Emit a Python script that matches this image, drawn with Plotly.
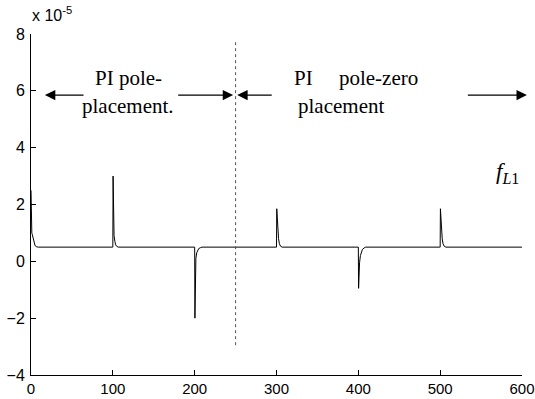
import plotly.graph_objects as go

# time samples and f_L1 values (x 1e-5)
t = [0, 0.2, 0.4, 0.6, 0.8, 1.0, 1.5, 2.5, 3.5, 5, 7, 9,
     99.6, 100.0, 100.3, 100.6, 101.0, 101.5, 102.5, 103.5, 105, 107,
     199.6, 200.0, 200.3, 200.6, 201.0, 201.5, 202.5, 203.5, 205, 207, 209,
     299.6, 300.0, 300.3, 300.8, 301.5, 302.5, 303.5, 305, 307,
     399.6, 400.0, 400.3, 400.8, 401.5, 402.5, 403.5, 405, 407, 409,
     499.6, 500.0, 500.3, 500.8, 501.5, 502.5, 503.5, 505, 507,
     600]
f = [2.5, 1.0, 2.3, 1.1, 1.9, 1.0, 0.95, 0.8, 0.65, 0.55, 0.51, 0.5,
     0.5, 0.5, 3.0, 1.2, 1.05, 0.9, 0.7, 0.58, 0.52, 0.5,
     0.5, 0.5, -2.0, -0.6, -0.1, 0.1, 0.3, 0.38, 0.45, 0.48, 0.5,
     0.5, 0.5, 1.85, 1.6, 1.15, 0.8, 0.62, 0.53, 0.5,
     0.5, 0.5, -0.95, -0.4, -0.05, 0.2, 0.33, 0.42, 0.47, 0.5,
     0.5, 0.5, 1.85, 1.6, 1.15, 0.8, 0.62, 0.53, 0.5,
     0.5]

x_ticks = [0, 100, 200, 300, 400, 500, 600]
y_ticks = [-4, -2, 0, 2, 4, 6, 8]
switch_t = [250, 250]
switch_y = [-2.95, 7.8]

fig = go.Figure()
fig.add_trace(go.Scatter(x=t, y=f, mode="lines",
                         line=dict(color="black", width=1), hoverinfo="skip"))
fig.add_trace(go.Scatter(x=switch_t, y=switch_y, mode="lines",
                         line=dict(color="#555555", width=1, dash="dot"), hoverinfo="skip"))

serif = "Liberation Serif, Times New Roman, serif"
arrow_y = 5.85
arrows = [(17, 66), (247, 178), (252, 296), (606, 532)]  # (head, tail)
for head, tail in arrows:
    fig.add_annotation(x=head, y=arrow_y, ax=tail, ay=arrow_y,
                       xref="x", yref="y", axref="x", ayref="y",
                       showarrow=True, arrowhead=2, arrowsize=1.6, arrowwidth=1.3,
                       arrowcolor="black", text="")

fs = 21
fig.add_annotation(x=119, y=6.45, text="PI pole-", showarrow=False,
                   font=dict(family=serif, size=fs, color="black"), xref="x", yref="y")
fig.add_annotation(x=119, y=5.45, text="placement.", showarrow=False,
                   font=dict(family=serif, size=fs, color="black"), xref="x", yref="y")
fig.add_annotation(x=319, y=6.45, text="PI&nbsp;&nbsp;&nbsp;&nbsp;&nbsp;pole-zero", showarrow=False,
                   xanchor="left", font=dict(family=serif, size=fs, color="black"),
                   xref="x", yref="y")
fig.add_annotation(x=324, y=5.45, text="placement", showarrow=False,
                   xanchor="left", font=dict(family=serif, size=fs, color="black"),
                   xref="x", yref="y")
fig.add_annotation(x=582, y=3.1, text="<i>f</i><sub><i>L</i>1</sub>", showarrow=False,
                   font=dict(family=serif, size=23, color="black"), xref="x", yref="y")
fig.add_annotation(x=0.0, y=1.0, xref="paper", yref="paper", yshift=8, xshift=-1,
                   xanchor="left", yanchor="bottom", text="x 10<sup>-5</sup>", showarrow=False,
                   font=dict(family="Liberation Sans, Arial, sans-serif", size=16, color="black"))

fig.update_layout(
    width=535, height=399,
    margin=dict(l=31, r=13, t=34, b=24, autoexpand=False),
    paper_bgcolor="white", plot_bgcolor="white",
    showlegend=False,
    font=dict(family="Liberation Sans, Arial, sans-serif", size=16, color="black"),
)
fig.update_xaxes(range=[0, 600], tickvals=x_ticks, ticks="inside", ticklen=5,
                 showline=True, linecolor="black", linewidth=1, showgrid=False,
                 zeroline=False, tickcolor="black", mirror=False, automargin=False,
                 ticklabelstandoff=0, tickfont=dict(size=15))
fig.update_yaxes(range=[-4, 8], tickvals=y_ticks, ticks="inside", ticklen=5,
                 showline=True, linecolor="black", linewidth=1, showgrid=False,
                 zeroline=False, tickcolor="black", mirror=False, automargin=False,
                 ticklabelstandoff=2)

fig.write_html("out.html", config={"displayModeBar": False},
               post_script="document.body.style.margin='0';document.body.style.padding='0';")
